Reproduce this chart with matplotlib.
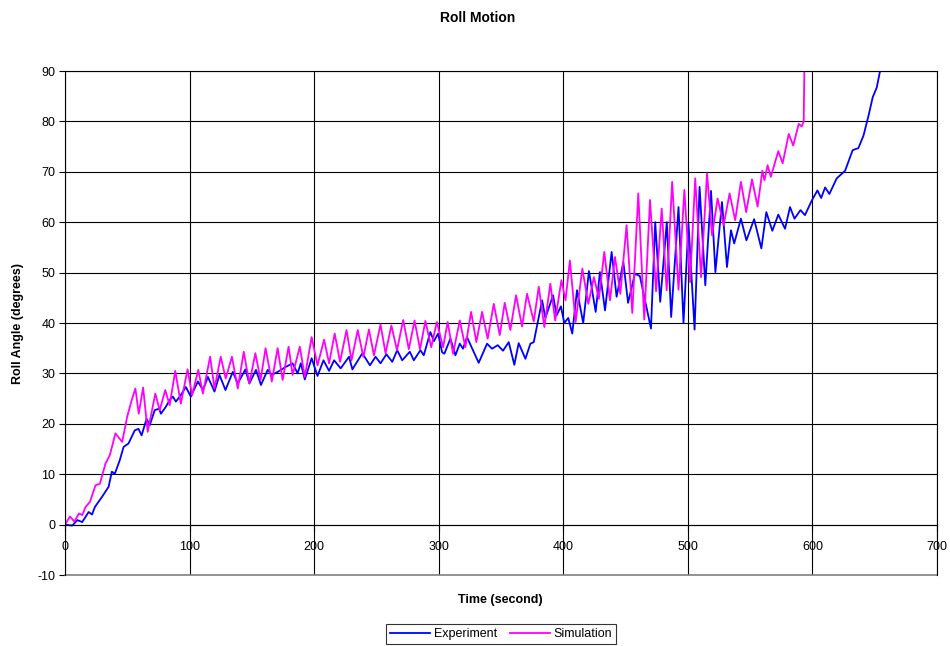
import numpy as np
import matplotlib
matplotlib.use("Agg")
from matplotlib import pyplot as plt

plt.rcParams['font.family'] = ['Liberation Sans', 'DejaVu Sans']
plt.rcParams['axes.unicode_minus'] = False

# Experiment: time (s) and roll angle (deg)
exp_t = [0, 5.8, 10, 13.8, 19, 21.7, 24, 29.7, 35, 37.6, 40, 44, 47, 51, 56, 59, 61.5,
         65.5, 68, 72, 75.5, 77, 81, 84, 86.6, 89, 93, 97, 101, 106.7, 110.7, 114.7,
         120, 124, 128.8, 134.7, 138.7, 144.8, 148, 153.3, 157.3, 162.7, 166, 170.7,
         177.3, 182.7, 186.7, 189.3, 192.5, 198, 202.7, 207.5, 212, 216, 221.3, 228,
         230.7, 238.7, 244.8, 249.3, 253.3, 258, 262.7, 266.7, 270.7, 276.8, 280,
         285.3, 288, 293.3, 296.2, 299.5, 302.7, 304.5, 309.4, 313.4, 316.9, 319.5,
         322.7, 332.1, 338.8, 342.8, 347.4, 351.6, 356.2, 360.7, 364.2, 369.6, 373.6,
         376.3, 383, 385.6, 391.8, 394.6, 398.1, 400.8, 404, 407.2, 411, 416, 420.6,
         426, 429.4, 433.5, 438.8, 442.8, 448.2, 452, 457.5, 461.5, 470.4, 473.8,
         477.8, 483.1, 486.6, 492.5, 496.5, 500.5, 505.4, 509.4, 514, 518.6, 522.1,
         527.4, 531.4, 534.6, 537.2, 542.6, 547, 553.2, 559, 563, 567.8, 572.6, 578,
         582, 585.6, 590.4, 594, 599.5, 604, 607, 610.2, 613.6, 619.5, 626.2, 632.3,
         636.9, 641, 645, 648.4, 651.6, 654.3, 657]
exp_v = [0, -0.2, 0.9, 0.5, 2.5, 2.0, 3.5, 5.5, 7.5, 10.5, 10.1, 12.8, 15.4, 16.1, 18.7,
         19.0, 17.7, 21.0, 19.7, 22.7, 23.0, 22.0, 23.4, 24.7, 25.4, 24.4, 25.7, 27.3,
         25.4, 28.4, 26.7, 29.3, 26.4, 29.7, 26.7, 30.3, 28.0, 30.8, 28.0, 30.7, 27.7,
         30.7, 29.7, 30.3, 31.3, 32.0, 30.0, 32.0, 28.8, 33.0, 29.5, 32.6, 30.5, 32.6,
         31.0, 33.3, 30.8, 34.0, 31.6, 33.3, 32.0, 33.8, 32.3, 34.6, 32.6, 34.3, 32.6,
         34.6, 33.6, 38.2, 36.4, 37.9, 34.2, 33.9, 36.9, 33.6, 35.9, 34.9, 37.2, 32.1,
         35.9, 34.9, 35.6, 34.5, 36.2, 31.7, 36.0, 32.9, 35.9, 36.2, 44.5, 41.0, 45.5,
         41.5, 43.3, 40.0, 41.0, 37.9, 46.5, 40.0, 50.3, 42.2, 50.1, 42.5, 54.1, 45.2,
         52.1, 44.0, 49.8, 49.3, 38.9, 60.0, 44.2, 60.0, 41.2, 63.0, 40.0, 59.7, 38.7,
         67.0, 47.5, 66.2, 50.1, 64.0, 51.1, 58.4, 55.8, 60.7, 56.4, 60.6, 54.8, 62.0,
         58.3, 61.5, 58.7, 63.0, 60.7, 62.4, 61.4, 64.3, 66.3, 64.8, 66.9, 65.6, 68.7,
         70.2, 74.3, 74.7, 77.2, 81.1, 84.8, 86.7, 90.0, 93.0]

# Simulation
sim_t = [0, 4, 7.5, 11.2, 13.9, 16.5, 20, 24.5, 28, 32.5, 36, 40.5, 45.9, 49.9, 53.9,
         56.5, 59.2, 62.7, 66.4, 72.5, 76, 80.5, 84, 88.5, 93, 98.4, 102, 107, 110.7,
         116.5, 120, 125, 129, 134, 138.7, 143.5, 148, 152.8, 157, 161, 166, 170.7,
         174.7, 179.5, 182.7, 188.5, 192.5, 198, 202.7, 208, 212, 216.5, 220.8, 226,
         230, 235, 239.5, 244, 248, 253.3, 257.3, 262, 266.5, 271.5, 276, 280.6, 285,
         289.3, 294, 298.5, 303.5, 307.2, 311.5, 316.9, 321.4, 326, 330.2, 334.8,
         339.3, 344.2, 349, 353, 357.5, 362.1, 366.9, 370.9, 376.3, 380.3, 384.8,
         389.6, 393.5, 398.5, 401.8, 405.3, 409.9, 415.3, 420.1, 424.6, 428.6, 432.9,
         437.5, 441.5, 445.8, 450.8, 455.4, 460.2, 465, 469.6, 474.5, 479, 483, 487.4,
         492.5, 497.2, 501.8, 505.9, 510.6, 515.4, 519.4, 523.9, 528.7, 533.5, 538,
         542.6, 546.8, 551.5, 556, 559.8, 561.5, 564, 566.6, 572.6, 576.1, 581, 584.6,
         589, 591.4, 593, 594]
sim_v = [0, 1.6, 0.6, 2.2, 1.9, 3.5, 4.5, 7.8, 8.1, 12.1, 13.8, 18.1, 16.4, 21.4, 25.0,
         27.0, 22.0, 27.2, 18.4, 26.0, 22.7, 26.7, 23.7, 30.5, 24.0, 30.8, 25.7, 30.7,
         26.0, 33.3, 27.0, 33.3, 29.0, 33.3, 27.0, 34.3, 28.0, 34.0, 28.7, 35.0, 28.4,
         35.0, 28.7, 35.3, 29.7, 35.3, 29.3, 37.2, 31.6, 36.7, 32.0, 37.9, 32.3, 38.6,
         32.6, 38.6, 33.3, 38.7, 33.6, 39.7, 34.0, 39.5, 34.6, 40.6, 34.8, 40.5, 34.8,
         40.4, 35.2, 40.2, 35.2, 40.2, 33.9, 40.5, 35.2, 42.2, 36.2, 42.2, 36.9, 43.8,
         37.6, 44.0, 38.6, 45.5, 39.3, 45.8, 40.3, 47.2, 39.2, 47.8, 40.5, 48.5, 44.5,
         52.4, 40.2, 50.8, 43.8, 49.1, 44.8, 54.1, 44.5, 53.1, 45.8, 59.4, 42.0, 65.7,
         40.7, 64.4, 46.3, 62.7, 46.5, 68.0, 46.6, 66.4, 48.1, 68.7, 49.1, 69.7, 57.4,
         64.7, 59.4, 65.7, 60.4, 68.0, 62.0, 68.5, 63.1, 70.2, 68.3, 71.3, 69.0, 74.1,
         71.7, 77.5, 75.2, 79.5, 79.0, 80.0, 100.0]

x_ticks = list(range(0, 701, 100))
y_ticks = list(range(-10, 91, 10))

fig = plt.figure(figsize=(9.5, 6.46), dpi=100)
ax = fig.add_axes([65 / 950, 1 - 575 / 646, 872 / 950, 504 / 646])

ax.plot(exp_t, exp_v, color='#0000FF', lw=1.3, label='Experiment',
        solid_joinstyle='round')
ax.plot(sim_t, sim_v, color='#FF00FF', lw=1.3, label='Simulation',
        solid_joinstyle='round')

ax.set_xlim(0, 700)
ax.set_ylim(-10, 90)
ax.set_xticks(x_ticks)
ax.set_yticks(y_ticks)
ax.grid(True, color='black', lw=0.8)
ax.set_axisbelow(True)
ax.spines['bottom'].set_position(('data', 0))
for s in ax.spines.values():
    s.set_color('black')
    s.set_linewidth(0.8)
ax.axhline(-10, color='#808080', lw=1.2, clip_on=False)
ax.tick_params(direction='out', length=4, width=0.8, labelsize=9, pad=3)
ax.tick_params(axis='x', pad=8)

fig.text(478 / 950, 1 - 18 / 646, 'Roll Motion', ha='center', va='center',
         fontsize=10, fontweight='bold')
fig.text(500 / 950, 1 - 600 / 646, 'Time (second)', ha='center', va='center',
         fontsize=9, fontweight='bold')
fig.text(18 / 950, 1 - 323 / 646, 'Roll Angle (degrees)', ha='center', va='center',
         rotation=90, fontsize=9, fontweight='bold')

leg = fig.legend(loc='center', bbox_to_anchor=(501 / 950, 1 - 634 / 646), ncol=2,
                 fontsize=9, frameon=True, fancybox=False, edgecolor='black',
                 handlelength=3.2, columnspacing=1.0, handletextpad=0.3,
                 borderpad=0.3, borderaxespad=0)
leg.get_frame().set_linewidth(0.8)

fig.savefig('out.png', dpi=100)
